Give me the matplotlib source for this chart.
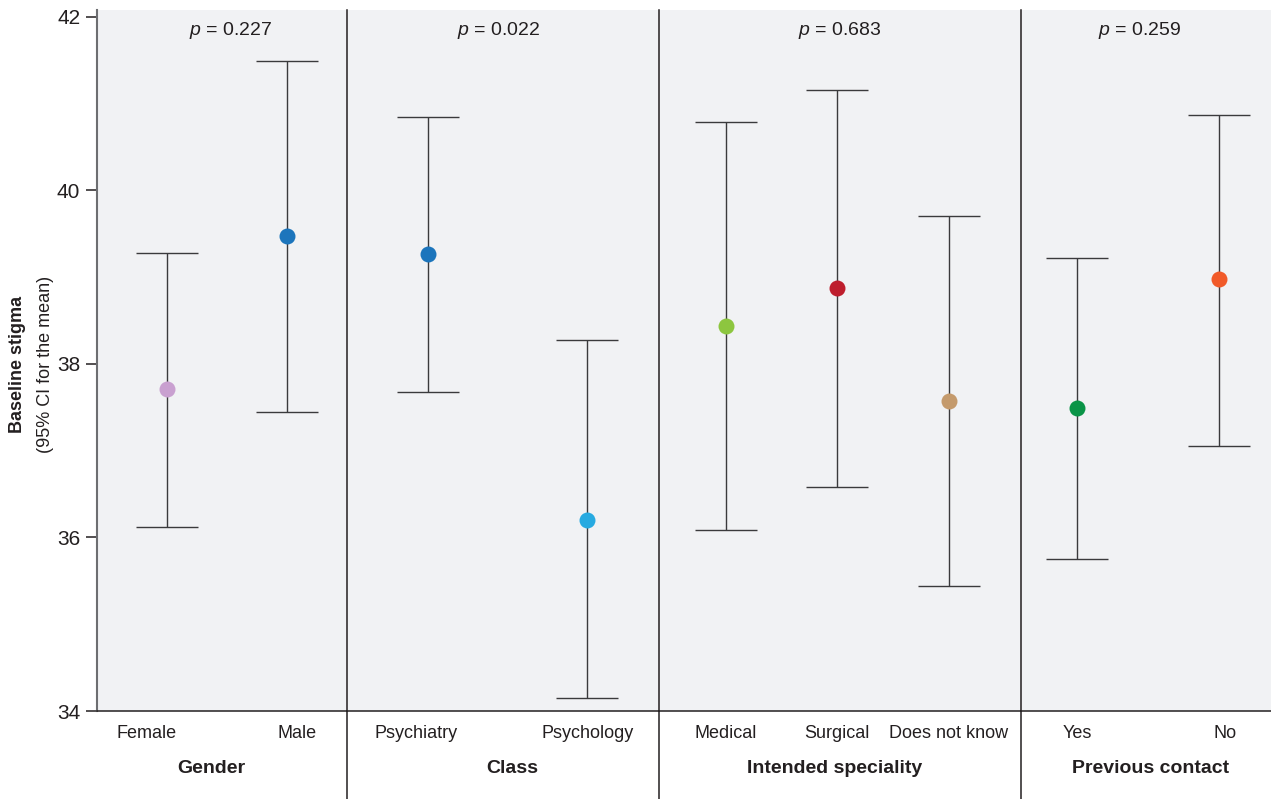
import matplotlib.pyplot as plt
from matplotlib.lines import Line2D
from matplotlib.transforms import ScaledTranslation

plt.rcParams['font.family'] = ['Liberation Sans', 'DejaVu Sans']
plt.rcParams['mathtext.fontset'] = 'custom'
plt.rcParams['mathtext.it'] = 'Liberation Sans:italic'
plt.rcParams['mathtext.rm'] = 'Liberation Sans'

# Groups, categories and p values
groups = ['Gender', 'Class', 'Intended speciality', 'Previous contact']
p_values = ['0.227', '0.022', '0.683', '0.259']
categories = [['Female', 'Male'],
              ['Psychiatry', 'Psychology'],
              ['Medical', 'Surgical', 'Does not know'],
              ['Yes', 'No']]

# Mean baseline stigma with 95% CI bounds
means = [[37.71, 39.48], [39.27, 36.20], [38.44, 38.88, 37.57], [37.49, 38.98]]
ci_low = [[36.12, 37.45], [37.68, 34.15], [36.09, 36.58, 35.44], [35.75, 37.05]]
ci_high = [[39.28, 41.49], [40.85, 38.28], [40.79, 41.16, 39.71], [39.22, 40.87]]

colors = [['#C9A0D0', '#1C75BC'], ['#1C75BC', '#27AAE1'],
          ['#8DC63F', '#BE1E2D', '#C49A6C'], ['#0A9447', '#F15A29']]

# panel widths and x limits so the points sit where they should in each panel
widths = [250, 312, 362, 250]
xlims = [(-0.58, 1.5), (-0.51, 1.45), (-0.6, 2.65), (-0.40, 1.37)]
# small horizontal nudges (px) for labels
label_shift = [[-20, 10], [-12, 0], [0, 0, 0], [0, 6]]
group_shift = [-11, 9, -5, 5]
p_shift = [9, -4, 0, -6]

fig = plt.figure(figsize=(12.71, 7.99), dpi=100)
left, right, bottom, top = 97 / 1271, 1.0, 1 - 711 / 799, 1 - 10 / 799
gs = fig.add_gridspec(1, 4, width_ratios=widths, wspace=0,
                      left=left, right=right, bottom=bottom, top=top)


def nudge(artist, dx):
    artist.set_transform(artist.get_transform() +
                         ScaledTranslation(dx / 100, 0, fig.dpi_scale_trans))


axes = []
for i, grp in enumerate(groups):
    ax = fig.add_subplot(gs[0, i])
    axes.append(ax)
    ax.set_facecolor('#F1F2F4')
    xs = list(range(len(categories[i])))
    for x, m, lo, hi, c in zip(xs, means[i], ci_low[i], ci_high[i], colors[i]):
        ax.errorbar(x, m, yerr=[[m - lo], [hi - m]], fmt='none', ecolor='#3A3A3C',
                    elinewidth=1.0, capsize=22, capthick=1.0, zorder=2)
        ax.plot(x, m, 'o', ms=11.5, color=c, mec='none', zorder=3)
    ax.set_xlim(*xlims[i])
    ax.set_ylim(34, 42.08)
    ax.set_xticks(xs)
    ax.set_xticklabels(categories[i], fontsize=13, color='#231F20')
    ax.tick_params(axis='x', length=0, pad=10)
    for lbl, dx in zip(ax.get_xticklabels(), label_shift[i]):
        nudge(lbl, dx)
    for s in ['top', 'right', 'left']:
        ax.spines[s].set_visible(False)
    ax.spines['bottom'].set_color('#231F20')
    ax.spines['bottom'].set_linewidth(1.1)
    pt = ax.text(0.5, 0.971, '$\\mathit{p}$ = ' + p_values[i], transform=ax.transAxes,
                 ha='center', va='center', fontsize=14, color='#231F20')
    nudge(pt, p_shift[i])
    gt = ax.text(0.5, -0.082, grp, transform=ax.transAxes, ha='center', va='center',
                 fontsize=14, fontweight='bold', color='#231F20')
    nudge(gt, group_shift[i])
    if i == 0:
        ax.spines['left'].set_visible(True)
        ax.spines['left'].set_color('#6D6E71')
        ax.spines['left'].set_linewidth(1.5)
        ax.set_yticks([34, 36, 38, 40, 42])
        ax.tick_params(axis='y', length=8, width=1.1, color='#231F20',
                       labelsize=15, labelcolor='#231F20', pad=4)
    else:
        ax.set_yticks([])

# vertical dividers between the panels, running down past the labels
for ax in axes[1:]:
    x0 = ax.get_position().x0
    fig.add_artist(Line2D([x0, x0], [0, top], color='#231F20', lw=1.1,
                          transform=fig.transFigure))

fig.text(18 / 1271, 1 - 364 / 799, 'Baseline stigma', rotation=90, ha='center',
         va='center', fontsize=13, fontweight='bold', color='#231F20')
fig.text(46 / 1271, 1 - 364 / 799, '(95% CI for the mean)', rotation=90,
         ha='center', va='center', fontsize=13, color='#231F20')

fig.savefig('out.png', dpi=100)
